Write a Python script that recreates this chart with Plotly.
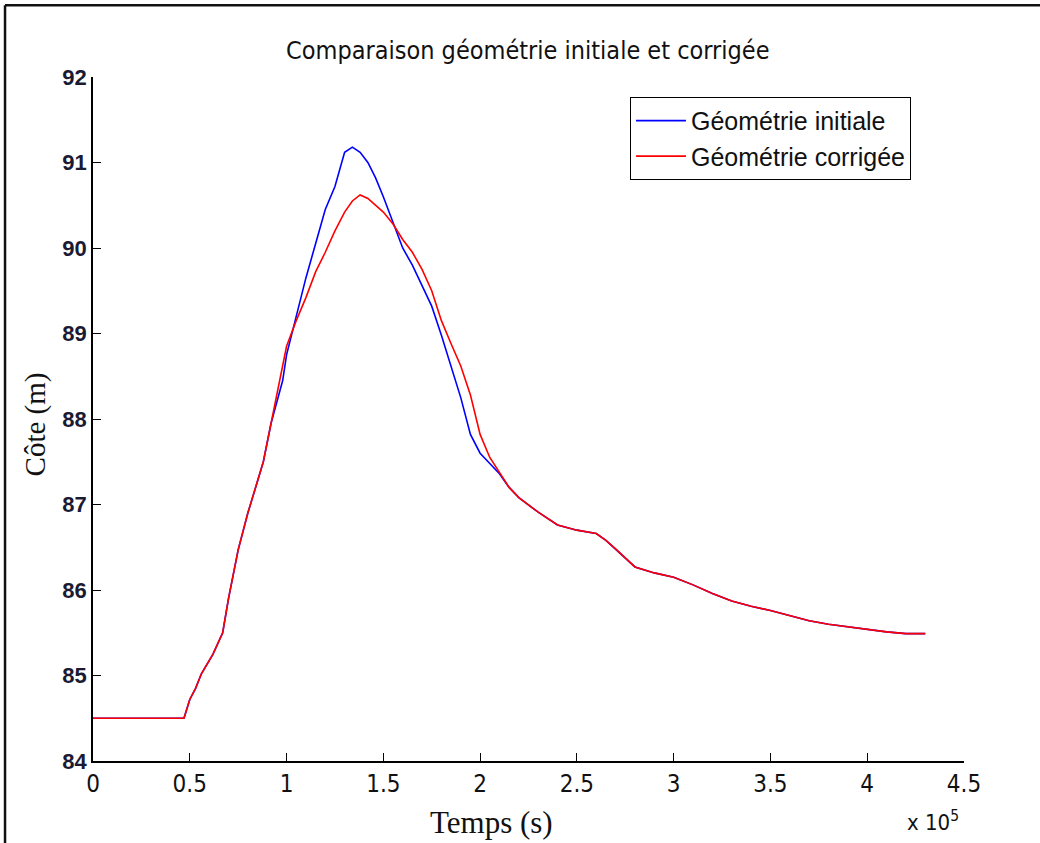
import plotly.graph_objects as go

# Time in units of 1e5 s
temps = [0, 0.47, 0.50, 0.53, 0.56, 0.62, 0.67, 0.70, 0.75, 0.80, 0.84, 0.88, 0.92,
         0.95, 0.98, 1.00, 1.05, 1.10, 1.15, 1.20, 1.25, 1.30, 1.34, 1.38, 1.42,
         1.46, 1.50, 1.55, 1.60, 1.65, 1.70, 1.75, 1.80, 1.85, 1.90, 1.95, 2.00,
         2.05, 2.10, 2.15, 2.20, 2.30, 2.40, 2.50, 2.60, 2.65, 2.70, 2.80, 2.90,
         3.00, 3.10, 3.20, 3.30, 3.40, 3.50, 3.60, 3.70, 3.80, 3.90, 4.00, 4.10,
         4.20, 4.30]

cote_initiale = [84.5, 84.5, 84.72, 84.85, 85.02, 85.25, 85.5, 85.9, 86.47, 86.9, 87.2,
                 87.5, 87.95, 88.2, 88.45, 88.75, 89.2, 89.65, 90.05, 90.45, 90.72,
                 91.12, 91.18, 91.12, 91.0, 90.82, 90.6, 90.3, 90.0, 89.8, 89.55,
                 89.32, 88.98, 88.62, 88.25, 87.82, 87.6, 87.48, 87.36, 87.2, 87.08,
                 86.91, 86.76, 86.7, 86.66, 86.58, 86.48, 86.27, 86.2, 86.15, 86.06,
                 85.96, 85.87, 85.81, 85.76, 85.7, 85.64, 85.6, 85.57, 85.54, 85.51,
                 85.49, 85.49]

cote_corrigee = [84.5, 84.5, 84.72, 84.85, 85.02, 85.25, 85.5, 85.9, 86.47, 86.9, 87.2,
                 87.5, 87.95, 88.3, 88.65, 88.85, 89.15, 89.42, 89.72, 89.95, 90.2,
                 90.42, 90.55, 90.62, 90.58, 90.5, 90.42, 90.28, 90.1, 89.95, 89.75,
                 89.5, 89.15, 88.88, 88.62, 88.28, 87.82, 87.55, 87.37, 87.2, 87.08,
                 86.91, 86.76, 86.7, 86.66, 86.58, 86.48, 86.27, 86.2, 86.15, 86.06,
                 85.96, 85.87, 85.81, 85.76, 85.7, 85.64, 85.6, 85.57, 85.54, 85.51,
                 85.49, 85.49]

x_ticks = [0, 0.5, 1, 1.5, 2, 2.5, 3, 3.5, 4, 4.5]
x_ticktext = ["0", "0.5", "1", "1.5", "2", "2.5", "3", "3.5", "4", "4.5"]
y_ticks = [84, 85, 86, 87, 88, 89, 90, 91, 92]

narrow = "Liberation Sans Narrow, Arial Narrow, DejaVu Sans Condensed, sans-serif"
sans = "Liberation Sans, Arial, sans-serif"
serif = "Liberation Serif, Times New Roman, DejaVu Serif, serif"

fig = go.Figure()
fig.add_trace(go.Scatter(x=temps, y=cote_initiale, mode="lines",
                         name="Géométrie initiale",
                         line=dict(color="#0000ff", width=1.6)))
fig.add_trace(go.Scatter(x=temps, y=cote_corrigee, mode="lines",
                         name="Géométrie corrigée",
                         line=dict(color="#ff0000", width=1.6)))

fig.update_layout(
    width=1040, height=843,
    margin=dict(l=93, r=76, t=77, b=82),
    paper_bgcolor="white", plot_bgcolor="white",
    title=dict(text="Comparaison géométrie initiale et corrigée",
               x=0.5075, xanchor="center", y=0.94, yanchor="middle",
               font=dict(family=narrow, size=25, color="#111111")),
    showlegend=True,
    legend=dict(x=0.6165, y=0.971, xanchor="left", yanchor="top",
                bgcolor="white", bordercolor="black", borderwidth=1,
                font=dict(family=sans, size=25, color="#111111"),
                itemwidth=50, tracegroupgap=0),
    xaxis=dict(range=[0, 4.5], tickvals=x_ticks, ticktext=x_ticktext,
               showgrid=False, zeroline=False, showline=True, linecolor="black",
               linewidth=1.5, ticks="inside", ticklen=8, tickcolor="black",
               tickfont=dict(family=narrow, size=24, color="#111111"),
               mirror=False),
    yaxis=dict(range=[84, 92], tickvals=y_ticks,
               showgrid=False, zeroline=False, showline=True, linecolor="black",
               linewidth=1.5, ticks="inside", ticklen=8, tickcolor="black",
               tickfont=dict(family=sans, size=22, color="#1a1a33", weight="bold"),
               mirror=False),
)

# axis titles (placed as in the original, x title slightly left of centre)
fig.add_annotation(text="Temps (s)", xref="paper", yref="paper",
                   x=0.457, y=-0.0906, xanchor="center", yanchor="middle",
                   showarrow=False, font=dict(family=serif, size=31, color="#111111"))
fig.add_annotation(text="Côte (m)", xref="paper", yref="paper",
                   x=-0.0666, y=0.492, xanchor="center", yanchor="middle",
                   textangle=-90, showarrow=False,
                   font=dict(family=serif, size=29, color="#111111"))

fig.add_annotation(text="x 10<sup>5</sup>", xref="paper", yref="paper",
                   x=0.997, y=-0.088, xanchor="right", yanchor="middle",
                   showarrow=False, font=dict(family=narrow, size=22, color="#111111"))

# outer frame of the original figure window
fig.add_shape(type="line", xref="paper", yref="paper",
              x0=-0.101, x1=1.2, y0=1.105, y1=1.105,
              line=dict(color="#111111", width=2.5))
fig.add_shape(type="line", xref="paper", yref="paper",
              x0=-0.101, x1=-0.101, y0=1.105, y1=-0.2,
              line=dict(color="#111111", width=2.5))

fig.write_html("out.html")
